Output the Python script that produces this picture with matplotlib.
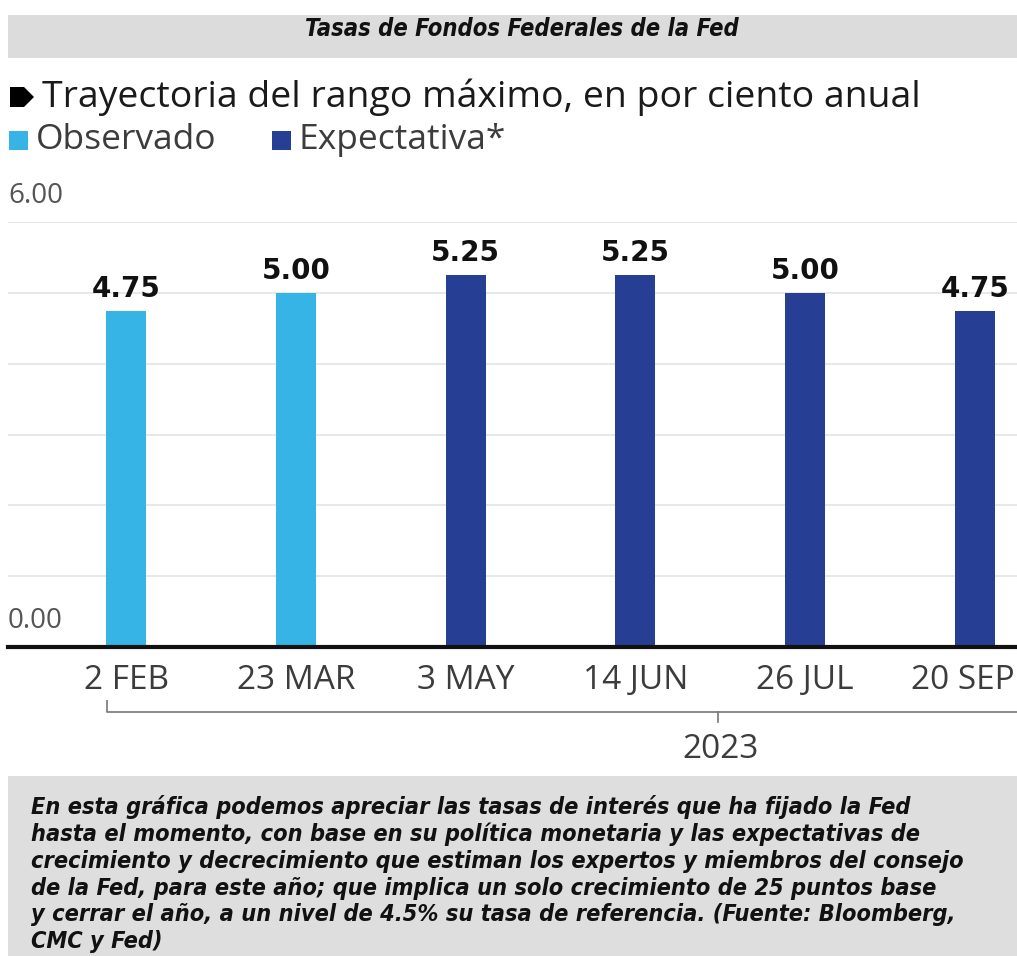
import matplotlib
matplotlib.use("Agg")
import matplotlib.pyplot as plt
import matplotlib.font_manager as fm
from matplotlib.patches import Rectangle, Polygon
from matplotlib.transforms import ScaledTranslation

# datos
fechas = ["2 FEB", "23 MAR", "3 MAY", "14 JUN", "26 JUL", "20 SEP"]
tasas = [4.75, 5.00, 5.25, 5.25, 5.00, 4.75]
tipo = ["Observado", "Observado", "Expectativa", "Expectativa", "Expectativa", "Expectativa"]
anio = "2023"

colores = {"Observado": "#36b4e6", "Expectativa": "#263f95"}
gris_txt = "#3c3c3c"
ligera = ["Open Sans", "DejaVu Sans"]


# buscar una fuente condensada negrita cursiva si existe
def fuente_condensada():
    mejor, puntos = None, -1
    for f in fm.fontManager.ttflist:
        cond = f.stretch in ("condensed", "semi-condensed", "extra-condensed", "ultra-condensed") \
            or "Condensed" in f.name or "Narrow" in f.name or "Condensed" in f.fname
        if not cond:
            continue
        w = f.weight if isinstance(f.weight, int) else (700 if "bold" in str(f.weight) else 400)
        p = 2 * (w >= 700) + (f.style in ("italic", "oblique")) * 2 + 1
        if p > puntos:
            mejor, puntos = f.fname, p
    return mejor


ruta = fuente_condensada()


def props(size):
    if ruta:
        fp = fm.FontProperties(fname=ruta, size=size)
    else:
        fp = fm.FontProperties(family="DejaVu Sans", weight="bold", style="italic", size=size)
    return fp


W, H = 1017, 956
fig = plt.figure(figsize=(W / 100, H / 100), dpi=100)

# capa de fondo en pixeles (y hacia abajo)
bg = fig.add_axes([0, 0, 1, 1], zorder=0)
bg.set_xlim(0, W)
bg.set_ylim(H, 0)
bg.axis("off")

bg.add_patch(Rectangle((8, 15), W - 8, 43, color="#dcdcdc", lw=0))
titulo = bg.text(522, 29, "Tasas de Fondos Federales de la Fed", ha="center", va="center",
                 fontproperties=props(16), color="#111111")

# subtitulo con flecha
bg.add_patch(Polygon([(10, 87), (24, 87), (34, 97), (24, 107), (10, 107)], closed=True, color="black", lw=0))
bg.text(42, 97, "Trayectoria del rango máximo, en por ciento anual", ha="left", va="center",
        fontsize=26.9, family=ligera, color="#1a1a1a")

# leyenda
bg.add_patch(Rectangle((9, 131), 19, 19, color=colores["Observado"], lw=0))
bg.text(36, 140, "Observado", ha="left", va="center", fontsize=25.5, family=ligera, color=gris_txt)
bg.add_patch(Rectangle((272, 131), 19, 19, color=colores["Expectativa"], lw=0))
bg.text(299, 140, "Expectativa*", ha="left", va="center", fontsize=25.5, family=ligera, color=gris_txt)

# corchete del año
bg.plot([107, 107, W], [700, 712, 712], color="#777777", lw=1.2, solid_capstyle="butt")
bg.plot([718, 718], [712, 722], color="#777777", lw=1.2)
bg.text(721, 749, anio, ha="center", va="center", fontsize=24, family=ligera, color=gris_txt)

# caja inferior
bg.add_patch(Rectangle((8, 776), W - 8, H - 776, color="#dedede", lw=0))
lineas = ["En esta gráfica podemos apreciar las tasas de interés que ha fijado la Fed",
          "hasta el momento, con base en su política monetaria y las expectativas de",
          "crecimiento y decrecimiento que estiman los expertos y miembros del consejo",
          "de la Fed, para este año; que implica un solo crecimiento de 25 puntos base",
          "y cerrar el año, a un nivel de 4.5% su tasa de referencia. (Fuente: Bloomberg,",
          "CMC y Fed)"]
interl = 1.0
nota = bg.text(31, 795, "\n".join(lineas), ha="left", va="top", fontproperties=props(18),
               color="#111111", linespacing=interl)

# grafica de barras
x0, x1 = 8, W
y_base, y_top = 647, 222
ax = fig.add_axes([x0 / W, (H - y_base) / H, (x1 - x0) / W, (y_base - y_top) / H], zorder=2)
ax.patch.set_alpha(0)

pos = list(range(len(fechas)))
ax.bar(pos, tasas, width=0.235, color=[colores[t] for t in tipo], zorder=3)
for p, v in zip(pos, tasas):
    ax.text(p, v + 0.11, f"{v:.2f}", ha="center", va="bottom", fontsize=20,
            fontweight="bold", color="#111111", zorder=4)

ax.set_ylim(0, 6)
ax.set_xlim(-0.695, 5.247)
for g in range(1, 7):
    ax.axhline(g, color="#e4e4e4", lw=1.2, zorder=1)
ax.axhline(0, color="#111111", lw=3, zorder=5, clip_on=False)

ax.text(0.0, 6.17, "6.00", transform=ax.get_yaxis_transform(), ha="left", va="bottom",
        fontsize=20, family=ligera, color="#555555")
ax.text(0.0, 0.17, "0.00", transform=ax.get_yaxis_transform(), ha="left", va="bottom",
        fontsize=20, family=ligera, color="#555555")

ax.set_xticks(pos)
ax.set_xticklabels(fechas, fontsize=24, family=ligera, color=gris_txt)
ax.tick_params(axis="x", length=0, pad=12)
ax.set_yticks([])
for s in ax.spines.values():
    s.set_visible(False)

rend = fig.canvas.get_renderer()

# ajustar anchos de los textos condensados al de la referencia
for t, ancho in [(titulo, 435), (nota, 935)]:
    bb = t.get_window_extent(rend)
    fp = t.get_fontproperties().copy()
    fp.set_size(fp.get_size() * ancho / bb.width)
    t.set_fontproperties(fp)

# interlineado de la nota ~27 px entre renglones
h1 = bg.text(0, 0, "Ag", fontproperties=nota.get_fontproperties())
alto1 = h1.get_window_extent(rend).height
h1.remove()
for _ in range(3):
    paso = (nota.get_window_extent(rend).height - alto1) / (len(lineas) - 1)
    interl = interl * 27 / paso
    nota.set_linespacing(interl)

# la ultima etiqueta se recorre para que quepa en la figura
ult = ax.get_xticklabels()[-1]
bb = ult.get_window_extent(rend)
if bb.x1 > W - 2:
    dx = (bb.x1 - (W - 2)) / 100
    ult.set_transform(ult.get_transform() + ScaledTranslation(-dx, 0, fig.dpi_scale_trans))

fig.savefig("out.png", dpi=100)
